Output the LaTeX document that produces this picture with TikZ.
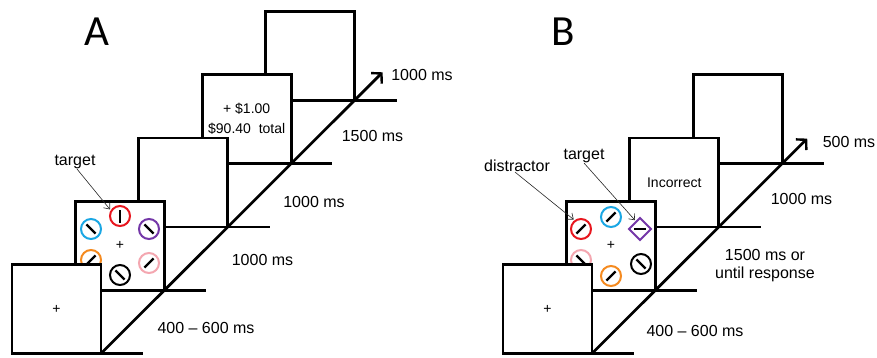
\documentclass[tikz,border=0pt]{standalone}
\usepackage{fontspec}
\setmainfont{Liberation Sans}
\newfontfamily\panelfont{Carlito}
\usetikzlibrary{arrows.meta,shapes.geometric}

\definecolor{stimred}{HTML}{E8161E}
\definecolor{stimcyan}{HTML}{1AA7E4}
\definecolor{stimpurple}{HTML}{7437A8}
\definecolor{stimorange}{HTML}{F58A1F}
\definecolor{stimpink}{HTML}{F4A7B0}

\tikzset{
  frame/.style={draw, fill=white, line width=2.7pt, minimum width=89pt,
    minimum height=89pt, inner sep=0pt, outer sep=0pt, align=center,
    font=\fontsize{14}{20}\selectfont},
  tick/.style={line width=2.7pt},
  timeline/.style={line width=2.7pt, -{Straight Barb[length=7pt,width=15pt,line width=2.4pt]}},
  disc/.style={circle, line width=2pt, minimum size=20pt, inner sep=0pt, outer sep=0pt},
  gem/.style={diamond, draw=stimpurple, line width=2pt, minimum width=22pt,
    minimum height=22pt, inner sep=0pt, outer sep=0pt},
  bar/.style={line width=2.4pt},
  pointer/.style={line width=0.6pt, draw=black!85, shorten >=2pt,
    -{Straight Barb[length=5pt,width=8pt,line width=0.6pt]}},
  caption/.style={inner sep=0pt, font=\fontsize{16}{17.5}\selectfont, align=center},
  panel/.style={inner sep=0pt, font=\panelfont\fontsize{43}{43}\selectfont},
}

% a circular search item: name, position, colour, bar angle
\newcommand\stimdisc[4]{%
  \node[disc, draw=#3] (#1) at (#2) {};
  \draw[bar] ([shift={(#4:6.5)}]#1.center) -- ([shift={(#4+180:6.5)}]#1.center);}

% a frame and the tick line running along its lower edge
\newcommand\trialframe[4]{%
  \node[frame] (#1) at (#2) {#4};
  \coordinate (#1e) at ([xshift=#3pt]#1.south east);
  \draw[tick] (#1.south west) -- (#1e);}

\begin{document}
\begin{tikzpicture}[x=1pt,y=-1pt]
\useasboundingbox (0,0) rectangle (877,357);

% ---------------- panel A ----------------
\node[panel] (labA) at (97,32) {A};

\trialframe{a5}{310.1,55.8}{42}{}
\trialframe{a4}{246.7,119.1}{41}{+ \$1.00\\\$90.40\ \ total}
\trialframe{a3}{183.3,182.4}{42}{}
\trialframe{a2}{119.9,245.7}{42}{+}

\stimdisc{aT}{120,216}{stimred}{90}
\stimdisc{aUL}{91,229}{stimcyan}{45}
\stimdisc{aUR}{149,229}{stimpurple}{45}
\stimdisc{aLL}{91,260}{stimorange}{135}
\stimdisc{aLR}{149,263}{stimpink}{135}
\stimdisc{aB}{120,275}{black}{45}

\trialframe{a1}{56.5,309}{42}{+}

\coordinate (tipA) at (382.6,72.3);
\draw[timeline] (a1.south east) -- (tipA);

\node[caption] (tgtA) at (75,162) {target};
\draw[pointer] ([xshift=2pt]tgtA.south) -- (aT.150);

\node[caption] (tA1) at (206,328) {400 -- 600 ms};
\node[caption] (tA2) at (262.5,260) {1000 ms};
\node[caption] (tA3) at (314,202) {1000 ms};
\node[caption] (tA4) at (372.5,136) {1500 ms};
\node[caption] (tA5) at (422,75) {1000 ms};

% ---------------- panel B ----------------
\node[panel] (labB) at (563,32) {B};

\trialframe{b4}{737.7,119.1}{42}{}
\trialframe{b3}{674.3,182.4}{42}{Incorrect}
\trialframe{b2}{610.9,245.7}{42}{+}

\stimdisc{bT}{611,217}{stimcyan}{135}
\stimdisc{bUL}{581,229}{stimred}{135}
\node[gem] (bUR) at (640,229) {};
\draw[bar] ([xshift=-6pt]bUR.center) -- ([xshift=6pt]bUR.center);
\stimdisc{bLL}{581,260}{stimpink}{45}
\stimdisc{bLR}{641,264}{black}{45}
\stimdisc{bB}{611,276}{stimorange}{135}

\trialframe{b1}{547.5,309}{42}{+}

\coordinate (tipB) at (807.2,138.6);
\draw[timeline] (b1.south east) -- (tipB);

\node[caption] (dstB) at (517,166) {distractor};
\draw[pointer] ([xshift=-2pt]dstB.south) -- (bUL.125);
\node[caption] (tgtB) at (584,156) {target};
\draw[pointer] (tgtB.south) -- (bUR.117);

\node[caption] (tB1) at (695,331) {400 -- 600 ms};
\node[caption] (tB2) at (765,265.5) {1500 ms or\\until response};
\node[caption] (tB3) at (801.5,199) {1000 ms};
\node[caption] (tB4) at (849,142) {500 ms};
\end{tikzpicture}
\end{document}
